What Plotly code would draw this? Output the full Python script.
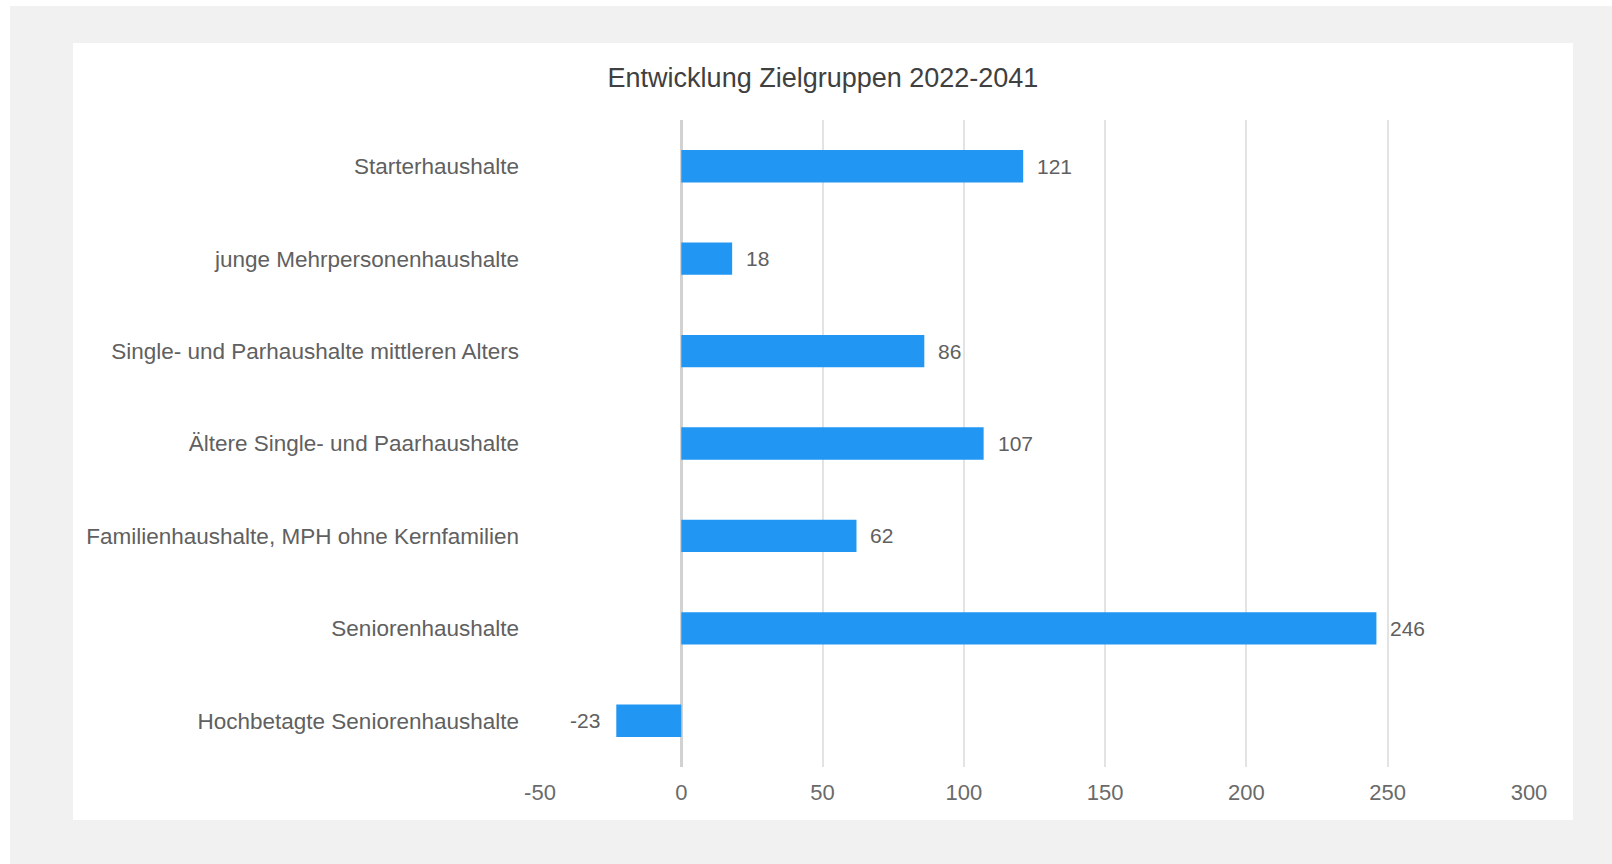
import plotly.graph_objects as go

# ---- data ----
categories = [
    "Starterhaushalte",
    "junge Mehrpersonenhaushalte",
    "Single- und Parhaushalte mittleren Alters",
    "Ältere Single- und Paarhaushalte",
    "Familienhaushalte, MPH ohne Kernfamilien",
    "Seniorenhaushalte",
    "Hochbetagte Seniorenhaushalte",
]
values = [121, 18, 86, 107, 62, 246, -23]
x_ticks = [-50, 0, 50, 100, 150, 200, 250, 300]
title_text = "Entwicklung Zielgruppen 2022-2041"

# ---- layout geometry ----
W, H = 1612, 864
L, R, T, B = 540, 83, 120, 97
PW, PH = W - L - R, H - T - B


def px_x(px):
    return (px - L) / PW


def px_y(py):
    return 1 - (py - T) / PH


FONT = "Liberation Sans, Arial, sans-serif"
BAR = "#2196f3"

fig = go.Figure()
fig.add_trace(go.Bar(
    x=values,
    y=categories,
    orientation="h",
    marker=dict(color=BAR, line=dict(width=0)),
    width=0.35,
    hoverinfo="skip",
))

annotations = []
for c, v in zip(categories, values):
    annotations.append(dict(
        x=v, y=c, xref="x", yref="y",
        text=str(v), showarrow=False,
        xanchor="left" if v >= 0 else "right",
        xshift=12 if v >= 0 else -14,
        yanchor="middle",
        font=dict(family=FONT, size=21, color="#606060"),
    ))

shapes = [
    # gray page background
    dict(type="rect", xref="paper", yref="paper", layer="below",
         x0=px_x(10), x1=px_x(W + 5), y0=px_y(H + 5), y1=px_y(6),
         fillcolor="#f1f1f1", line=dict(width=0)),
    # white card
    dict(type="rect", xref="paper", yref="paper", layer="below",
         x0=px_x(73), x1=px_x(1573), y0=px_y(820), y1=px_y(43),
         fillcolor="#ffffff", line=dict(width=0)),
]

fig.update_layout(
    width=W, height=H,
    margin=dict(l=L, r=R, t=T, b=B, pad=0),
    paper_bgcolor="#ffffff",
    plot_bgcolor="#ffffff",
    showlegend=False,
    title=dict(
        text=title_text, xref="paper", yref="container",
        x=px_x(823), y=1 - 78 / H, xanchor="center", yanchor="middle",
        font=dict(family=FONT, size=27, color="#404040"),
    ),
    xaxis=dict(
        range=[-50, 300],
        tickmode="array", tickvals=x_ticks, ticktext=[str(t) for t in x_ticks],
        showgrid=True, gridcolor="#e3e3e3", gridwidth=2,
        zeroline=True, zerolinecolor="#d2d2d2", zerolinewidth=3,
        showline=False, ticks="",
        ticklabelstandoff=10,
        tickfont=dict(family=FONT, size=22, color="#6a6a6a"),
        fixedrange=True,
    ),
    yaxis=dict(
        type="category",
        categoryorder="array", categoryarray=categories,
        range=[len(categories) - 0.5, -0.5],
        showgrid=False, zeroline=False, showline=False, ticks="",
        ticklabelstandoff=20,
        tickfont=dict(family=FONT, size=22.5, color="#606060"),
        fixedrange=True,
    ),
    annotations=annotations,
    shapes=shapes,
)

fig.write_html("out.html")
